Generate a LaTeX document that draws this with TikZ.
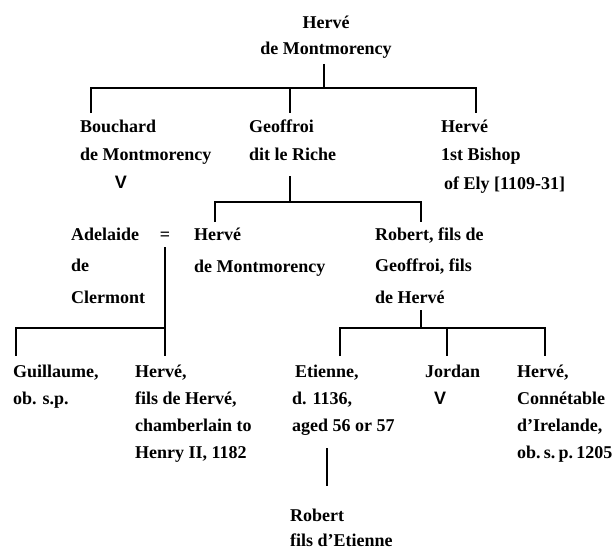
\documentclass[tikz,border=0pt]{standalone}
\usepackage{fontspec}
\setmainfont{Liberation Serif}
\newfontfamily\vmarkfont{Liberation Sans}
\newcommand\ppl[2]{\fontsize{18}{#1}\selectfont\begin{tabular}[t]{@{}l@{}}#2\end{tabular}}
\tikzset{
  line/.style={line width=2.6pt, line join=miter},
  person/.style={inner sep=0pt, anchor=base west, font=\bfseries},
  vmark/.style={inner sep=0pt, anchor=base, font=\fontsize{18}{18}\selectfont\vmarkfont\bfseries},
}
\begin{document}
\begin{tikzpicture}[x=1pt,y=-1pt]
\clip (0,0) rectangle (613,551);
\fill[white] (0,0) rectangle (613,551);

% generation 1
\node[person, anchor=base] (herve0) at (326,29) {\fontsize{18}{26}\selectfont\begin{tabular}[t]{@{}c@{}}Hervé\\de Montmorency\end{tabular}};

% generation 2
\node[person] (bouchard) at (80,132) {\ppl{28}{Bouchard\\de Montmorency}};
\node[vmark] (v1) at (121,188) {V};
\node[person] (geoffroi) at (249,132) {\ppl{28}{Geoffroi\\dit le Riche}};
\node[person] (bishop) at (441,132) {\ppl{28.5}{Hervé\\1st Bishop\\\hspace*{3pt}of Ely [1109-31]}};

% generation 3
\node[person] (adelaide) at (71,240) {\ppl{31.5}{Adelaide\\de\\Clermont}};
\node[person, anchor=base] (eq) at (165,240) {\fontsize{18}{18}\selectfont =};
\node[person] (herve1) at (194,240) {\ppl{32}{Hervé\\de Montmorency}};
\node[person] (robert) at (375,240) {\ppl{31.5}{Robert, fils de\\Geoffroi, fils\\de Hervé}};

% generation 4
\node[person] (guillaume) at (13,377) {\ppl{27}{Guillaume,\\ob. s.p.}};
\node[person] (herve2) at (135,377) {\ppl{27}{Hervé,\\fils de Hervé,\\chamberlain to\\Henry II, 1182}};
\node[person] (etienne) at (292,377) {\ppl{27}{\hspace*{3pt}Etienne,\\d. 1136,\\aged 56 or 57}};
\node[person] (jordan) at (425,377) {\ppl{27}{Jordan}};
\node[vmark] (v2) at (440,404) {V};
\node[person] (herve3) at (517,377) {\ppl{27}{Hervé,\\Connétable\\d'Irelande,\\ob.\hspace{3.2pt}s.\hspace{3.2pt}p.\hspace{3.2pt}1205}};

% generation 5
\node[person] (robert2) at (290,521) {\ppl{25}{Robert\\fils d'Etienne}};

% junction coordinates
\coordinate (c0a) at (324,64);  \coordinate (c0b) at (324,88);
\coordinate (c1a) at (91,113);  \coordinate (c1b) at (91,88);
\coordinate (c1c) at (476,88);  \coordinate (c1d) at (476,113);
\coordinate (c1e) at (290,88);  \coordinate (c1f) at (290,113);

\coordinate (c2a) at (290,176); \coordinate (c2b) at (290,202);
\coordinate (c2c) at (215,222); \coordinate (c2d) at (215,202);
\coordinate (c2e) at (421,202); \coordinate (c2f) at (421,222);

\coordinate (c3a) at (165,247); \coordinate (c3b) at (165,356);
\coordinate (c3c) at (165,328); \coordinate (c3d) at (16,328);
\coordinate (c3e) at (16,356);

\coordinate (c4a) at (421,310); \coordinate (c4b) at (421,328);
\coordinate (c4c) at (340,356); \coordinate (c4d) at (340,328);
\coordinate (c4e) at (545,328); \coordinate (c4f) at (545,356);
\coordinate (c4g) at (447,328); \coordinate (c4h) at (447,356);

\coordinate (c5a) at (327,448); \coordinate (c5b) at (327,486);

% connectors
\draw[line] (c0a) -- (c0b);
\draw[line] (c1a) -- (c1b) -- (c1c) -- (c1d);
\draw[line] (c1e) -- (c1f);

\draw[line] (c2a) -- (c2b);
\draw[line] (c2c) -- (c2d) -- (c2e) -- (c2f);

\draw[line] (c3a) -- (c3b);
\draw[line] (c3c) -- (c3d) -- (c3e);

\draw[line] (c4a) -- (c4b);
\draw[line] (c4c) -- (c4d) -- (c4e) -- (c4f);
\draw[line] (c4g) -- (c4h);

\draw[line] (c5a) -- (c5b);
\end{tikzpicture}
\end{document}
